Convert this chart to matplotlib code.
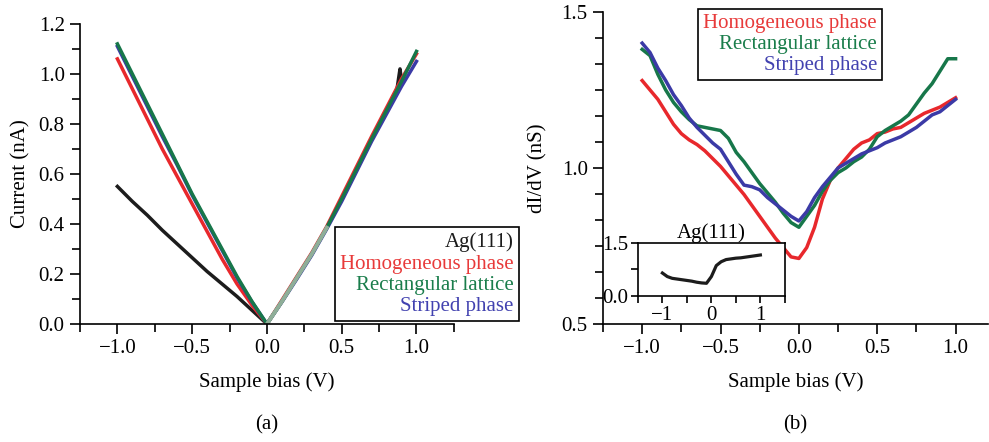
import numpy as np
import matplotlib
matplotlib.use("Agg")
import matplotlib.pyplot as plt
from matplotlib.ticker import MultipleLocator, FixedLocator
from matplotlib.offsetbox import TextArea, VPacker, AnchoredOffsetbox

plt.rcParams["font.family"] = ["Liberation Serif", "DejaVu Serif"]
plt.rcParams["font.size"] = 15

RED = "#e8282c"
GREEN = "#17774a"
BLUE = "#3b3aa6"
BLACK = "#1c1c1c"

# ---- (a) I-V curves ----
iv_bias = [-1.0, -0.9, -0.8, -0.7, -0.6, -0.5, -0.4, -0.3, -0.2, -0.1, 0.0,
           0.1, 0.2, 0.3, 0.4, 0.5, 0.6, 0.7, 0.8, 0.9, 1.0]
iv_homog = [1.06, 0.94, 0.82, 0.70, 0.59, 0.48, 0.37, 0.26, 0.16, 0.075, 0.0,
            0.095, 0.19, 0.285, 0.39, 0.51, 0.63, 0.75, 0.865, 0.98, 1.08]
iv_rect = [1.12, 1.00, 0.88, 0.76, 0.64, 0.52, 0.41, 0.30, 0.19, 0.09, 0.0,
           0.09, 0.185, 0.28, 0.385, 0.50, 0.62, 0.74, 0.855, 0.97, 1.09]
iv_stripe = [1.11, 0.99, 0.87, 0.75, 0.635, 0.515, 0.405, 0.295, 0.185, 0.088, 0.0,
             0.088, 0.18, 0.275, 0.38, 0.49, 0.61, 0.73, 0.84, 0.95, 1.05]
iv_ag_bias = [-1.0, -0.9, -0.8, -0.7, -0.6, -0.5, -0.4, -0.3, -0.2, -0.1, 0.0,
              0.1, 0.2, 0.3, 0.4, 0.5, 0.6, 0.7, 0.8, 0.87, 0.89, 0.9]
iv_ag = [0.55, 0.49, 0.435, 0.375, 0.32, 0.265, 0.21, 0.16, 0.11, 0.055, 0.0,
         0.09, 0.185, 0.28, 0.385, 0.50, 0.62, 0.74, 0.855, 0.94, 1.02, 0.97]

# ---- (b) dI/dV curves ----
didv_bias = [-1.0, -0.95, -0.9, -0.85, -0.8, -0.75, -0.7, -0.65, -0.6, -0.55,
             -0.5, -0.45, -0.4, -0.35, -0.3, -0.25, -0.2, -0.15, -0.1, -0.05,
             0.0, 0.05, 0.1, 0.15, 0.2, 0.25, 0.3, 0.35, 0.4, 0.45,
             0.5, 0.55, 0.6, 0.65, 0.7, 0.75, 0.8, 0.85, 0.9, 0.95, 1.0]
didv_homog = [1.28, 1.25, 1.22, 1.18, 1.14, 1.11, 1.09, 1.075, 1.055, 1.03,
              1.005, 0.975, 0.945, 0.915, 0.88, 0.845, 0.81, 0.775, 0.745, 0.715,
              0.71, 0.745, 0.81, 0.9, 0.96, 1.00, 1.03, 1.06, 1.08, 1.09,
              1.11, 1.115, 1.125, 1.13, 1.145, 1.16, 1.175, 1.185, 1.195, 1.21, 1.225]
didv_rect = [1.38, 1.36, 1.30, 1.25, 1.21, 1.18, 1.155, 1.135, 1.13, 1.125,
             1.12, 1.095, 1.05, 1.02, 0.985, 0.95, 0.92, 0.89, 0.855, 0.825,
             0.81, 0.845, 0.88, 0.925, 0.96, 0.985, 1.0, 1.02, 1.035, 1.06,
             1.10, 1.12, 1.135, 1.15, 1.17, 1.205, 1.24, 1.27, 1.31, 1.35, 1.35]
didv_stripe = [1.40, 1.37, 1.32, 1.28, 1.235, 1.20, 1.16, 1.13, 1.105, 1.08,
               1.06, 1.02, 0.98, 0.945, 0.94, 0.93, 0.905, 0.885, 0.865, 0.845,
               0.83, 0.86, 0.905, 0.94, 0.97, 1.0, 1.015, 1.03, 1.045, 1.055,
               1.065, 1.08, 1.09, 1.10, 1.115, 1.13, 1.15, 1.17, 1.18, 1.20, 1.22]

# inset: Ag(111)
ag_bias = [-1.0, -0.9, -0.8, -0.7, -0.6, -0.5, -0.4, -0.3, -0.2, -0.1, 0.0,
           0.1, 0.2, 0.3, 0.4, 0.5, 0.6, 0.7, 0.8, 0.9, 1.0]
ag_didv = [0.65, 0.55, 0.50, 0.48, 0.46, 0.44, 0.42, 0.39, 0.37, 0.36, 0.55,
           0.86, 0.97, 1.03, 1.05, 1.07, 1.08, 1.10, 1.12, 1.14, 1.16]

labels = ["Ag(111)", "Homogeneous phase", "Rectangular lattice", "Striped phase"]
label_colors = [BLACK, "#e83a3a", "#1a7d4b", "#4242b0"]

fig = plt.figure(figsize=(9.89, 4.42), dpi=100)


def style_axes(ax):
    for s in ["top", "right"]:
        ax.spines[s].set_visible(False)
    for s in ["left", "bottom"]:
        ax.spines[s].set_linewidth(1.2)
    ax.tick_params(which="major", direction="out", length=7, width=1.2, pad=4)
    ax.tick_params(which="minor", direction="out", length=6, width=1.2)


def text_legend(names, colors, loc, anchor):
    rows = [TextArea(n, textprops=dict(color=c, fontsize=15)) for n, c in zip(names, colors)]
    pack = VPacker(children=rows, align="right", pad=0, sep=1.5)
    box = AnchoredOffsetbox(loc=loc, child=pack, pad=0.25, borderpad=0, frameon=True,
                            bbox_to_anchor=anchor, bbox_transform=fig.transFigure)
    box.patch.set_boxstyle("square,pad=0")
    box.patch.set_edgecolor("black")
    box.patch.set_linewidth(1.2)
    fig.add_artist(box)


# panel (a)
ax1 = fig.add_axes([0.0809, 0.267, 0.378, 0.679])
lw = 2.5
ax1.plot(iv_ag_bias, iv_ag, color=BLACK, lw=lw)
ax1.plot(iv_bias, iv_homog, color=RED, lw=lw)
ax1.plot(iv_bias, iv_stripe, color=BLUE, lw=lw)
ax1.plot(iv_bias, iv_rect, color=GREEN, lw=lw)
# faded segment near origin as in the original
b = np.array(iv_bias)
fade = (b >= 0) & (b <= 0.4)
ax1.plot(b[fade], np.array(iv_rect)[fade], color="#8fae98", lw=lw + 0.4)
ax1.set_xlim(-1.25, 1.25)
ax1.set_ylim(0, 1.2)
ax1.xaxis.set_major_locator(MultipleLocator(0.5))
ax1.xaxis.set_minor_locator(MultipleLocator(0.25))
ax1.yaxis.set_major_locator(MultipleLocator(0.2))
ax1.yaxis.set_minor_locator(MultipleLocator(0.1))
ax1.xaxis.set_major_formatter(lambda v, p: f"{v:.1f}".replace("-", "\u2212"))
ax1.yaxis.set_major_formatter(lambda v, p: f"{v:.1f}")
style_axes(ax1)
ax1.set_xlabel("Sample bias (V)", labelpad=10)
ax1.set_ylabel("Current (nA)", labelpad=6)
text_legend(labels, label_colors, "lower right", (0.5248, 0.274))

# panel (b)
ax2 = fig.add_axes([0.6097, 0.267, 0.389, 0.706])
ax2.plot(didv_bias, didv_homog, color=RED, lw=lw)
ax2.plot(didv_bias, didv_rect, color=GREEN, lw=lw)
ax2.plot(didv_bias, didv_stripe, color=BLUE, lw=lw)
ax2.set_xlim(-1.25, 1.205)
ax2.set_ylim(0.5, 1.5)
ax2.xaxis.set_major_locator(MultipleLocator(0.5))
ax2.xaxis.set_minor_locator(MultipleLocator(0.25))
ax2.yaxis.set_major_locator(FixedLocator([0.5, 1.0, 1.5]))
ax2.yaxis.set_minor_locator(FixedLocator(np.linspace(0.5, 1.5, 13)))
ax2.xaxis.set_major_formatter(lambda v, p: f"{v:.1f}".replace("-", "\u2212"))
ax2.yaxis.set_major_formatter(lambda v, p: f"{v:.1f}")
style_axes(ax2)
ax2.set_xlabel("Sample bias (V)", labelpad=10)
ax2.set_ylabel("dI/dV (nS)", labelpad=10)
text_legend(labels[1:], label_colors[1:], "upper right", (0.892, 0.98))

# inset
axi = fig.add_axes([0.645, 0.3303, 0.1486, 0.12])
axi.plot(ag_bias, ag_didv, color=BLACK, lw=2.3)
axi.set_xlim(-1.5, 1.5)
axi.set_ylim(0, 1.5)
axi.xaxis.set_major_locator(MultipleLocator(1))
axi.xaxis.set_minor_locator(MultipleLocator(0.5))
axi.yaxis.set_major_locator(FixedLocator([0.0, 1.5]))
axi.yaxis.set_minor_locator(FixedLocator([0.75]))
axi.xaxis.set_major_formatter(lambda v, p: f"{v:.0f}".replace("-", "\u2212"))
axi.yaxis.set_major_formatter(lambda v, p: f"{v:.1f}")
for s in axi.spines.values():
    s.set_linewidth(1.2)
axi.tick_params(which="major", direction="out", length=5, width=1.2, pad=2)
axi.tick_params(which="minor", direction="out", length=5, width=1.2)
axi.set_title("Ag(111)", fontsize=15, pad=1)

fig.text(0.27, 0.038, "(a)", ha="center", va="center", fontsize=15)
fig.text(0.804, 0.038, "(b)", ha="center", va="center", fontsize=15)

fig.savefig("out.png", dpi=100)
